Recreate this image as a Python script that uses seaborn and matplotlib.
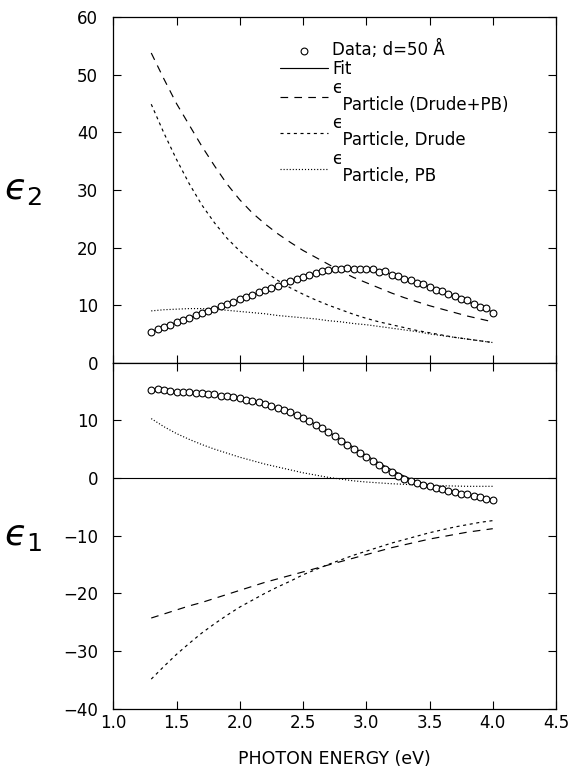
import matplotlib
matplotlib.use("Agg")
import matplotlib.pyplot as plt
import seaborn as sns
import pandas as pd

# ---------------- data ----------------
energy_data = [1.30, 1.35, 1.40, 1.45, 1.50, 1.55, 1.60, 1.65, 1.70, 1.75,
               1.80, 1.85, 1.90, 1.95, 2.00, 2.05, 2.10, 2.15, 2.20, 2.25,
               2.30, 2.35, 2.40, 2.45, 2.50, 2.55, 2.60, 2.65, 2.70, 2.75,
               2.80, 2.85, 2.90, 2.95, 3.00, 3.05, 3.10, 3.15, 3.20, 3.25,
               3.30, 3.35, 3.40, 3.45, 3.50, 3.55, 3.60, 3.65, 3.70, 3.75,
               3.80, 3.85, 3.90, 3.95, 4.00]
eps2_data = [5.4, 5.8, 6.2, 6.6, 7.0, 7.4, 7.8, 8.2, 8.6, 9.0,
             9.4, 9.8, 10.2, 10.6, 11.0, 11.4, 11.8, 12.2, 12.6, 13.0,
             13.4, 13.8, 14.2, 14.6, 14.95, 15.3, 15.6, 15.85, 16.05, 16.2,
             16.3, 16.4, 16.35, 16.3, 16.25, 16.2, 15.8, 15.9, 15.3, 15.0,
             14.5, 14.3, 13.9, 13.6, 13.1, 12.7, 12.4, 11.9, 11.6, 11.0,
             10.9, 10.2, 9.7, 9.5, 8.6]
eps1_data = [15.3, 15.5, 15.2, 15.1, 15.0, 14.9, 15.0, 14.8, 14.7, 14.6,
             14.5, 14.3, 14.2, 14.0, 13.8, 13.6, 13.3, 13.1, 12.8, 12.5,
             12.2, 11.8, 11.4, 10.9, 10.4, 9.8, 9.2, 8.6, 7.9, 7.2,
             6.5, 5.8, 5.1, 4.4, 3.7, 2.9, 2.2, 1.6, 1.0, 0.4,
             -0.1, -0.6, -0.9, -1.2, -1.4, -1.8, -1.9, -2.3, -2.4, -2.8,
             -2.7, -3.1, -3.3, -3.6, -3.8]

energy_model = [1.3, 1.4, 1.5, 1.6, 1.7, 1.8, 1.9, 2.0, 2.1, 2.2,
                2.3, 2.4, 2.5, 2.6, 2.7, 2.8, 2.9, 3.0, 3.1, 3.2,
                3.3, 3.4, 3.5, 3.6, 3.7, 3.8, 3.9, 4.0]
eps2_fit = [5.4, 6.2, 7.0, 7.8, 8.6, 9.4, 10.2, 11.0, 11.8, 12.6,
            13.4, 14.2, 15.0, 15.6, 16.05, 16.3, 16.35, 16.2, 15.9, 15.4,
            14.7, 13.9, 13.1, 12.3, 11.5, 10.6, 9.7, 8.8]
eps2_drude_pb = [53.8, 49.3, 45.0, 41.3, 37.6, 34.2, 31.0, 28.3, 26.0, 24.1,
                 22.4, 20.9, 19.5, 18.3, 17.1, 15.9, 14.8, 13.9, 13.0, 12.1,
                 11.3, 10.6, 9.9, 9.3, 8.7, 8.1, 7.6, 7.1]
eps2_drude = [44.9, 39.9, 35.3, 31.1, 27.4, 24.3, 21.6, 19.4, 17.5, 15.8,
              14.3, 13.0, 11.9, 10.9, 10.0, 9.2, 8.4, 7.7, 7.1, 6.6,
              6.1, 5.6, 5.2, 4.8, 4.4, 4.1, 3.8, 3.5]
eps2_pb = [9.0, 9.2, 9.3, 9.4, 9.4, 9.3, 9.1, 8.9, 8.7, 8.5,
           8.2, 8.0, 7.8, 7.6, 7.3, 7.1, 6.8, 6.6, 6.3, 6.0,
           5.7, 5.4, 5.0, 4.7, 4.4, 4.1, 3.8, 3.5]
eps1_fit = [15.1, 15.0, 14.9, 14.8, 14.6, 14.4, 14.1, 13.7, 13.2, 12.7,
            12.1, 11.3, 10.4, 9.3, 8.0, 6.7, 5.3, 3.9, 2.6, 1.4,
            0.3, -0.6, -1.3, -1.9, -2.4, -2.9, -3.3, -3.7]
eps1_drude_pb = [-24.3, -23.6, -22.9, -22.2, -21.6, -20.9, -20.2, -19.5, -18.8, -18.1,
                 -17.5, -16.9, -16.3, -15.7, -15.1, -14.5, -13.9, -13.3, -12.7, -12.1,
                 -11.6, -11.1, -10.6, -10.2, -9.8, -9.4, -9.1, -8.8]
eps1_drude = [-34.9, -32.7, -30.6, -28.7, -26.9, -25.3, -23.8, -22.4, -21.2, -20.0,
              -18.9, -17.9, -16.8, -15.9, -15.0, -14.2, -13.4, -12.7, -12.0, -11.3,
              -10.7, -10.1, -9.5, -9.0, -8.5, -8.1, -7.7, -7.4]
eps1_pb = [10.3, 8.9, 7.7, 6.7, 5.8, 5.0, 4.3, 3.6, 3.0, 2.4,
           1.9, 1.4, 0.9, 0.5, 0.1, -0.2, -0.5, -0.7, -0.85, -1.0,
           -1.1, -1.2, -1.3, -1.35, -1.4, -1.45, -1.45, -1.45]

xticks = [1.0, 1.5, 2.0, 2.5, 3.0, 3.5, 4.0, 4.5]
yticks_top = [0, 10, 20, 30, 40, 50, 60]
yticks_bot = [-40, -30, -20, -10, 0, 10]

lbl_data = "Data; d=50 Å"
lbl_fit = "Fit"
lbl_dpb = "\u03f5\n  Particle (Drude+PB)"
lbl_drude = "\u03f5\n  Particle, Drude"
lbl_pb = "\u03f5\n  Particle, PB"

# ---------------- style ----------------
sns.set_style("ticks")
plt.rcParams["font.family"] = ["DejaVu Sans"]
plt.rcParams["mathtext.fontset"] = "dejavusans"
plt.rcParams["lines.scale_dashes"] = False
plt.rcParams["axes.linewidth"] = 0.9
for k in ["text.color", "axes.labelcolor", "xtick.color", "ytick.color", "axes.edgecolor"]:
    plt.rcParams[k] = "black"

fig = plt.figure(figsize=(5.79, 7.73), dpi=100)
W, H = 579, 773
left, right = 113.3 / W, 556.0 / W
ax_top = fig.add_axes([left, 1 - 362.7 / H, right - left, (362.7 - 17.3) / H])
ax_bot = fig.add_axes([left, 1 - 708.5 / H, right - left, (708.5 - 362.7) / H])

ls_dpb = (0, (5.5, 4.5))
ls_drude = (0, (2.2, 2.6))
ls_pb = (0, (0.8, 1.4))
lw = 0.85

df_m = pd.DataFrame({"E": energy_model,
                     "e2_fit": eps2_fit, "e2_dpb": eps2_drude_pb,
                     "e2_d": eps2_drude, "e2_pb": eps2_pb,
                     "e1_fit": eps1_fit, "e1_dpb": eps1_drude_pb,
                     "e1_d": eps1_drude, "e1_pb": eps1_pb})
df_d = pd.DataFrame({"E": energy_data, "e2": eps2_data, "e1": eps1_data})

for ax, pre in [(ax_top, "e2"), (ax_bot, "e1")]:
    sns.lineplot(data=df_m, x="E", y=pre + "_fit", ax=ax, color="black", lw=lw,
                 label=lbl_fit, zorder=2)
    sns.lineplot(data=df_m, x="E", y=pre + "_dpb", ax=ax, color="black", lw=lw,
                 linestyle=ls_dpb, label=lbl_dpb, zorder=2)
    sns.lineplot(data=df_m, x="E", y=pre + "_d", ax=ax, color="black", lw=lw,
                 linestyle=ls_drude, label=lbl_drude, zorder=2)
    sns.lineplot(data=df_m, x="E", y=pre + "_pb", ax=ax, color="black", lw=lw,
                 linestyle=ls_pb, label=lbl_pb, zorder=2)
    sns.scatterplot(data=df_d, x="E", y=pre, ax=ax, marker="o", s=24,
                    facecolor="white", edgecolor="black", linewidth=0.8,
                    label=lbl_data, zorder=3)

ax_bot.axhline(0, color="black", lw=0.8, zorder=1)

for ax in (ax_top, ax_bot):
    ax.set_xlim(1.0, 4.5)
    ax.set_xticks(xticks)
    ax.tick_params(direction="in", length=6, width=0.8, top=True, right=True,
                   labelsize=12, color="black", labelcolor="black")
    ax.tick_params(axis="y", pad=11)
    ax.tick_params(axis="x", pad=4)
    for sp in ax.spines.values():
        sp.set_visible(True)
        sp.set_color("black")
    ax.set_xlabel("")

ax_top.set_ylim(0, 60)
ax_top.set_yticks(yticks_top)
ax_top.tick_params(labelbottom=False)
ax_bot.set_ylim(-40, 20)
ax_bot.set_yticks(yticks_bot)
ax_bot.set_xticklabels(["%.1f" % v for v in xticks])

ax_top.set_ylabel("$\u03f5_2$", fontsize=26, rotation=0, ha="center", va="center")
ax_top.yaxis.set_label_coords(-0.205, 0.5)
ax_bot.set_ylabel("$\u03f5_1$", fontsize=26, rotation=0, ha="center", va="center")
ax_bot.yaxis.set_label_coords(-0.205, 0.5)
ax_bot.set_xlabel("PHOTON ENERGY (eV)", fontsize=12.5, labelpad=13)

if ax_bot.get_legend():
    ax_bot.get_legend().remove()
h, l = ax_top.get_legend_handles_labels()
order = [lbl_data, lbl_fit, lbl_dpb, lbl_drude, lbl_pb]
hd = dict(zip(l, h))
leg = ax_top.legend([hd[k] for k in order], order, loc="upper left",
                    bbox_to_anchor=((280 - 113.3) / 442.7, (362.7 - 40) / 345.4),
                    frameon=False, fontsize=12, handlelength=2.9, handletextpad=0.25,
                    borderpad=0, borderaxespad=0, labelspacing=0.05, numpoints=1,
                    scatterpoints=1)
for t in leg.get_texts():
    t.set_linespacing(0.92)
    t.set_color("black")

fig.savefig("out.png", dpi=100)
